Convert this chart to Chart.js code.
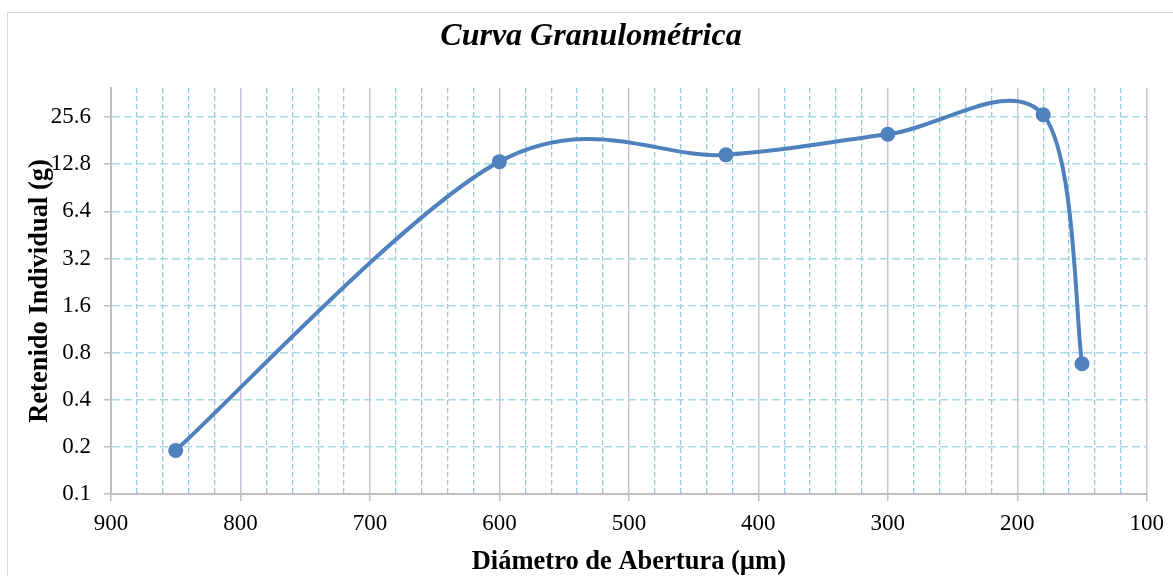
<!DOCTYPE html>
<html>
<head>
<meta charset="utf-8">
<script src="https://cdn.jsdelivr.net/npm/chart.js@4/dist/chart.umd.min.js"></script>
<style>
  html, body { margin: 0; padding: 0; background: #fff; }
  #wrap { position: relative; width: 1173px; height: 576px; overflow: hidden; }
  #frame { position: absolute; left: 7px; top: 12px; width: 1180px; height: 600px; border: 1px solid #D9D9D9; box-sizing: border-box; pointer-events: none; }
  canvas { position: absolute; left: 0; top: 0; }
</style>
</head>
<body>
<div id="wrap">
  <div id="frame"></div>
  <canvas id="c" width="1173" height="576"></canvas>
</div>
<script>
// ---- data ----
const diameters = [850, 600, 425, 300, 180, 150];          // µm
const retained  = [0.19, 13.3, 14.7, 19.9, 26.5, 0.68];    // g
const yTickValues = [0.1, 0.2, 0.4, 0.8, 1.6, 3.2, 6.4, 12.8, 25.6];
const xTickValues = [900, 800, 700, 600, 500, 400, 300, 200, 100];

const chartTitle = 'Curva Granulométrica';
const xTitle = 'Diámetro de Abertura (µm)';
const yTitle = 'Retenido Individual (g)';

const points = diameters.map((d, i) => ({ x: d, y: retained[i] }));

const serif = "'Liberation Serif', 'Times New Roman', serif";
const lineColor = '#4F81BD';
const axisGray = '#BFBFBF';
const minorBlue = '#93CDDD';
const hBlue = '#A9D9E6';
const majorLav = '#CCC1DA';

// Spreadsheet-style smoothing (uniform Catmull-Rom) applied to the
// control points of the line element that Chart.js builds from the scales.
const catmullRom = {
  id: 'catmullRom',
  beforeDatasetDraw(chart, args) {
    const meta = args.meta;
    const line = meta.dataset;
    if (!line) return;
    line.updateControlPoints(chart.chartArea, 'x');
    const pts = meta.data;
    for (let i = 0; i < pts.length; i++) {
      const cur = pts[i];
      const prev = pts[i - 1] || cur;
      const next = pts[i + 1] || cur;
      const dx = (next.x - prev.x) / 6;
      const dy = (next.y - prev.y) / 6;
      cur.cp1x = cur.x - dx; cur.cp1y = cur.y - dy;
      cur.cp2x = cur.x + dx; cur.cp2y = cur.y + dy;
    }
    line._path = undefined;
  }
};

new Chart(document.getElementById('c'), {
  type: 'scatter',
  plugins: [catmullRom],
  data: {
    datasets: [{
      data: points,
      showLine: true,
      borderColor: lineColor,
      backgroundColor: lineColor,
      borderWidth: 4,
      pointRadius: 7.5,
      pointBorderWidth: 0,
      pointBackgroundColor: lineColor,
      tension: 0.4
    }]
  },
  options: {
    responsive: false,
    animation: false,
    events: [],
    layout: { padding: { left: 35, right: 26, top: 0, bottom: 0 } },
    plugins: {
      legend: { display: false },
      tooltip: { enabled: false },
      title: {
        display: true,
        text: chartTitle,
        color: '#000',
        font: { family: serif, size: 32, weight: 'bold', style: 'italic', lineHeight: 1.2 },
        padding: { top: 18, bottom: 31.6 }
      }
    },
    scales: {
      x2: {
        type: 'linear',
        position: 'top',
        min: 100, max: 900, reverse: true,
        afterFit: s => { s.height = 0; },
        ticks: { display: false, stepSize: 20 },
        grid: {
          drawTicks: false,
          color: ctx => (ctx.tick && ctx.tick.value % 100 === 0) ? 'rgba(0,0,0,0)' : minorBlue,
          lineWidth: 1.3
        },
        border: { display: false, dash: [5, 3] }
      },
      x: {
        type: 'linear',
        position: 'bottom',
        min: 100, max: 900, reverse: true,
        afterBuildTicks: s => { s.ticks = xTickValues.map(v => ({ value: v })); },
        afterFit: s => { s.height = 82; },
        ticks: {
          color: '#000',
          font: { family: serif, size: 23 },
          padding: 9,
          maxRotation: 0,
          callback: v => String(v)
        },
        grid: {
          color: ctx => (ctx.tick && ctx.tick.value === 900) ? 'rgba(0,0,0,0)' : majorLav,
          lineWidth: 1.5,
          tickColor: axisGray,
          tickLength: 7,
          tickWidth: 1.5
        },
        border: { display: true, color: axisGray, width: 2 },
        title: {
          display: true,
          text: xTitle,
          color: '#000',
          font: { family: serif, size: 26.5, weight: 'bold', lineHeight: 1.2 },
          padding: { top: 0, bottom: -2 }
        }
      },
      y: {
        type: 'logarithmic',
        position: 'left',
        min: 0.1, max: 39.3,
        afterBuildTicks: s => { s.ticks = yTickValues.map(v => ({ value: v })); },
        afterFit: s => { s.width = 76; },
        ticks: {
          color: '#000',
          font: { family: serif, size: 23 },
          padding: 13,
          autoSkip: false,
          callback: v => String(v)
        },
        grid: {
          color: ctx => (ctx.index === 0) ? 'rgba(0,0,0,0)' : hBlue,
          lineWidth: 1.5,
          tickColor: axisGray,
          tickLength: 7,
          tickWidth: 1.5
        },
        border: { display: true, color: axisGray, width: 2, dash: [8, 4] },
        title: {
          display: true,
          text: yTitle,
          color: '#000',
          font: { family: serif, size: 26.5, weight: 'bold', lineHeight: 1.2 },
          padding: { top: -11, bottom: 0 }
        }
      }
    }
  }
});
</script>
</body>
</html>
